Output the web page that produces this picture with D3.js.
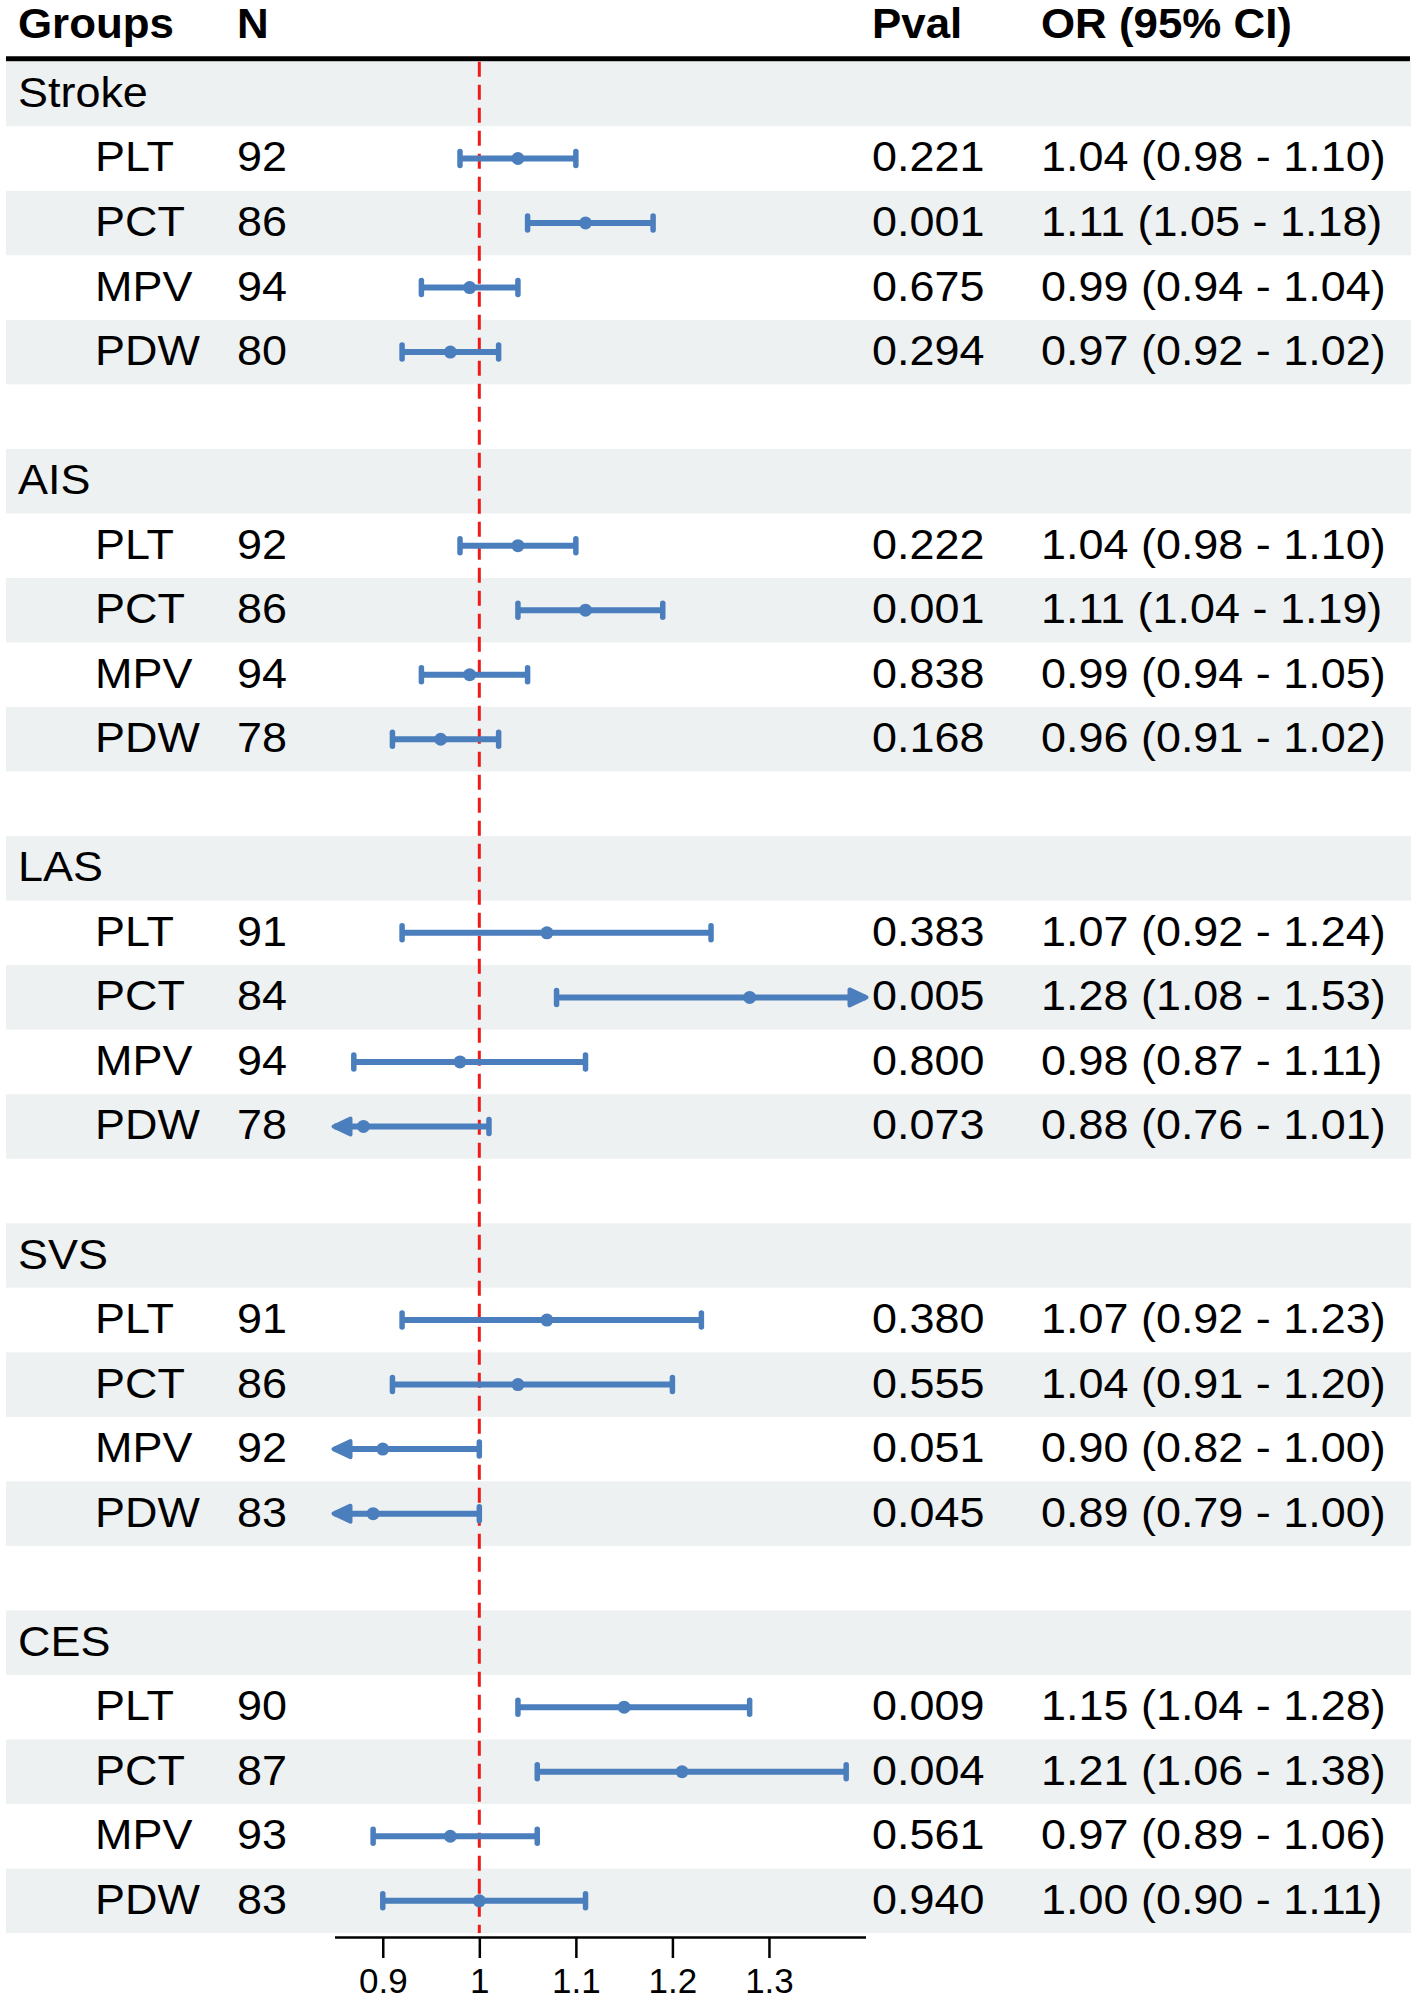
<!DOCTYPE html>
<html>
<head>
<meta charset="utf-8">
<script src="https://cdn.jsdelivr.net/npm/d3@7"></script>
<style>
  body { margin: 0; background: #fff; }
  text { font-family: "Liberation Sans", Arial, sans-serif; fill: #000; }
</style>
</head>
<body>
<script>
// groups and outcomes
var groups = ["Stroke", "AIS", "LAS", "SVS", "CES"];
var markers = ["PLT", "PCT", "MPV", "PDW"];

// values, group by group (PLT, PCT, MPV, PDW)
var nVals = [92, 86, 94, 80,
             92, 86, 94, 78,
             91, 84, 94, 78,
             91, 86, 92, 83,
             90, 87, 93, 83];
var pVals = ["0.221", "0.001", "0.675", "0.294",
             "0.222", "0.001", "0.838", "0.168",
             "0.383", "0.005", "0.800", "0.073",
             "0.380", "0.555", "0.051", "0.045",
             "0.009", "0.004", "0.561", "0.940"];
var orVals = [1.04, 1.11, 0.99, 0.97,
              1.04, 1.11, 0.99, 0.96,
              1.07, 1.28, 0.98, 0.88,
              1.07, 1.04, 0.90, 0.89,
              1.15, 1.21, 0.97, 1.00];
var loVals = [0.98, 1.05, 0.94, 0.92,
              0.98, 1.04, 0.94, 0.91,
              0.92, 1.08, 0.87, 0.76,
              0.92, 0.91, 0.82, 0.79,
              1.04, 1.06, 0.89, 0.90];
var hiVals = [1.10, 1.18, 1.04, 1.02,
              1.10, 1.19, 1.05, 1.02,
              1.24, 1.53, 1.11, 1.01,
              1.23, 1.20, 1.00, 1.00,
              1.28, 1.38, 1.06, 1.11];
var xTicks = [0.9, 1, 1.1, 1.2, 1.3];
var xDomain = [0.85, 1.40];

var largura = 1417;
var altura = 2000;
var topo = 61.7;
var hLinha = 64.53;
var azul = "#4a7ebd";
var esticar = 1.07; // the reference glyphs are a little wider than Arial

// build the list of table rows
var linhas = [];
groups.forEach(function(g, gi) {
  linhas.push({tipo: "grupo", nome: g});
  markers.forEach(function(m, mi) {
    var k = gi * markers.length + mi;
    linhas.push({tipo: "item", nome: m, n: nVals[k], p: pVals[k],
                 or: orVals[k], lo: loVals[k], hi: hiVals[k]});
  });
  if (gi < groups.length - 1) linhas.push({tipo: "vazio"});
});

var svg = d3.select("body")
            .append("svg")
            .attr("width", largura)
            .attr("height", altura);

var x = d3.scaleLinear()
          .domain(xDomain)
          .range([334.5, 865.5]);

var y = d3.scaleLinear()
          .domain([0, linhas.length])
          .range([topo, topo + linhas.length * hLinha]);

// zebra bands
svg.selectAll("rect.faixa")
   .data(linhas.filter(function(d, i) { return i % 2 === 0; }))
   .enter()
   .append("rect")
   .attr("class", "faixa")
   .attr("x", 6)
   .attr("width", 1405)
   .attr("y", function(d, i) { return y(i * 2); })
   .attr("height", hLinha)
   .attr("fill", "#eef1f2");

function texto(sel, px, py, tam, esc) {
  return sel.append("text")
            .attr("transform", "translate(" + px + "," + py + ") scale(" + (esc || esticar) + ",1)")
            .attr("font-size", tam);
}

// header
var cabecalho = [["Groups", 18], ["N", 237], ["Pval", 872], ["OR (95% CI)", 1041]];
cabecalho.forEach(function(c) {
  texto(svg, c[1], 38, 43, 1.02)
    .attr("font-weight", "bold")
    .text(c[0]);
});

svg.append("line")
   .attr("x1", 6).attr("x2", 1410)
   .attr("y1", 58.8).attr("y2", 58.8)
   .attr("stroke", "#000")
   .attr("stroke-width", 5);

// reference line at OR = 1
svg.append("line")
   .attr("x1", x(1)).attr("x2", x(1))
   .attr("y1", topo).attr("y2", y(linhas.length))
   .attr("stroke", "#f01a1a")
   .attr("stroke-width", 3)
   .attr("stroke-dasharray", "15,8");

var g = svg.selectAll("g.linha")
           .data(linhas)
           .enter()
           .append("g")
           .attr("class", "linha")
           .attr("transform", function(d, i) { return "translate(0," + (y(i) + hLinha / 2) + ")"; });

var base = 13;

g.filter(function(d) { return d.tipo === "grupo"; })
 .each(function(d) { texto(d3.select(this), 18, base, 42).text(d.nome); });

var itens = g.filter(function(d) { return d.tipo === "item"; });

itens.each(function(d) {
  var s = d3.select(this);
  texto(s, 95, base, 42).text(d.nome);
  texto(s, 237, base, 42).text(d.n);
  texto(s, 872, base, 42).text(d.p);
  texto(s, 1041, base, 42)
    .text(d.or.toFixed(2) + " (" + d.lo.toFixed(2) + " - " + d.hi.toFixed(2) + ")");
});

// confidence intervals
var lim = function(v) { return Math.max(xDomain[0], Math.min(xDomain[1], v)); };

itens.append("line")
     .attr("x1", function(d) { return x(lim(d.lo)); })
     .attr("x2", function(d) { return x(lim(d.hi)); })
     .attr("stroke", azul)
     .attr("stroke-width", 6);

itens.filter(function(d) { return d.lo >= xDomain[0]; })
     .append("line")
     .attr("x1", function(d) { return x(d.lo); })
     .attr("x2", function(d) { return x(d.lo); })
     .attr("y1", -7).attr("y2", 7)
     .attr("stroke", azul).attr("stroke-width", 5.5)
     .attr("stroke-linecap", "round");

itens.filter(function(d) { return d.hi <= xDomain[1]; })
     .append("line")
     .attr("x1", function(d) { return x(d.hi); })
     .attr("x2", function(d) { return x(d.hi); })
     .attr("y1", -7).attr("y2", 7)
     .attr("stroke", azul).attr("stroke-width", 5.5)
     .attr("stroke-linecap", "round");

// arrows where the interval runs past the axis
itens.filter(function(d) { return d.lo < xDomain[0]; })
     .append("path")
     .attr("d", function(d) {
       var p = x(xDomain[0]) - 1;
       return "M" + (p + 17) + ",-8L" + p + ",0L" + (p + 17) + ",8Z";
     })
     .attr("fill", azul).attr("stroke", azul)
     .attr("stroke-width", 4).attr("stroke-linejoin", "round");

itens.filter(function(d) { return d.hi > xDomain[1]; })
     .append("path")
     .attr("d", function(d) {
       var p = x(xDomain[1]) + 1;
       return "M" + (p - 17) + ",-8L" + p + ",0L" + (p - 17) + ",8Z";
     })
     .attr("fill", azul).attr("stroke", azul)
     .attr("stroke-width", 4).attr("stroke-linejoin", "round");

itens.append("circle")
     .attr("cx", function(d) { return x(d.or); })
     .attr("r", 6.5)
     .attr("fill", azul);

// x axis
var eixo = d3.axisBottom(x)
             .tickValues(xTicks)
             .tickSize(21)
             .tickSizeOuter(0)
             .tickPadding(10)
             .tickFormat(function(d) { return String(d); });

var ge = svg.append("g")
            .attr("transform", "translate(0,1937)")
            .call(eixo);
ge.select(".domain").attr("stroke", "#000").attr("stroke-width", 2.5);
ge.selectAll(".tick line").attr("stroke", "#000").attr("stroke-width", 2.5);
ge.selectAll(".tick text")
  .attr("font-size", 35)
  .attr("font-family", "Liberation Sans, Arial, sans-serif")
  .attr("fill", "#000");
</script>
</body>
</html>
